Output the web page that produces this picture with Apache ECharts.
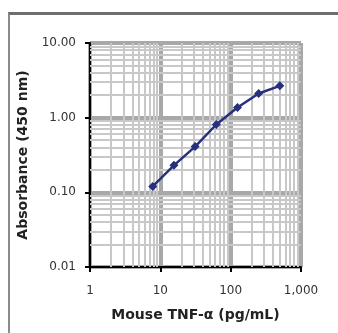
<!DOCTYPE html>
<html>
<head>
<meta charset="utf-8">
<script src="https://cdn.jsdelivr.net/npm/echarts@6/dist/echarts.min.js"></script>
<style>
  html, body { margin: 0; padding: 0; background: #fff; }
  #frame {
    position: absolute; left: 8px; top: 12px; width: 400px; height: 400px;
    border-top: 3px solid #6e6e6e; border-left: 2px solid #8a8a8a;
  }
  #chart { position: absolute; left: 0; top: 0; width: 338px; height: 333px; }
</style>
</head>
<body>
<div id="frame"></div>
<div id="chart"></div>
<script>
  // standard curve, mouse TNF-a
  let concentration = [7.8, 15.6, 31.25, 62.5, 125, 250, 500];
  let absorbance = [0.12, 0.23, 0.41, 0.81, 1.37, 2.11, 2.67];
  let xTickLabels = {0: '1', 1: '10', 2: '100', 3: '1,000'};
  let yTickLabels = {'-2': '0.01', '-1': '0.10', 0: '1.00', 1: '10.00'};
  // minor gridlines (2..9 within each decade)
  let xMinor = [2, 3, 4, 5, 6, 7, 8, 9, 20, 30, 40, 50, 60, 70, 80, 90, 200, 300, 400, 500, 600, 700, 800, 900];
  let yMinor = [0.02, 0.03, 0.04, 0.05, 0.06, 0.07, 0.08, 0.09, 0.2, 0.3, 0.4, 0.5, 0.6, 0.7, 0.8, 0.9, 2, 3, 4, 5, 6, 7, 8, 9];

  let chart = echarts.init(document.getElementById('chart'));
  let minorLines = [];
  for (let v of xMinor) minorLines.push({xAxis: v});
  for (let v of yMinor) minorLines.push({yAxis: v});

  let option = {
    animation: false,
    grid: {left: 90, right: 37, top: 43, bottom: 66},
    xAxis: {
      type: 'log', logBase: 10, min: 1, max: 1000,
      name: 'Mouse TNF-α (pg/mL)',
      nameLocation: 'middle',
      nameGap: 41,
      nameTextStyle: {fontFamily: 'DejaVu Sans', fontWeight: 'bold', fontSize: 14, color: '#222', verticalAlign: 'top'},
      axisLine: {lineStyle: {color: '#000', width: 2}},
      axisTick: {length: 5, lineStyle: {color: '#000', width: 2}},
      axisLabel: {
        margin: 18, fontFamily: 'DejaVu Sans', fontSize: 12, color: '#333',
        formatter: function (v) { return xTickLabels[Math.round(Math.log10(v))]; }
      },
      splitLine: {show: true, lineStyle: {color: '#a8a8a8', width: 4}}
    },
    yAxis: {
      type: 'log', logBase: 10, min: 0.01, max: 10,
      name: 'Absorbance (450 nm)',
      nameLocation: 'middle',
      nameGap: 60,
      nameTextStyle: {fontFamily: 'DejaVu Sans', fontWeight: 'bold', fontSize: 14, color: '#222'},
      axisLine: {show: true, lineStyle: {color: '#000', width: 2}},
      axisTick: {show: true, length: 5, lineStyle: {color: '#000', width: 2}},
      axisLabel: {
        margin: 14, fontFamily: 'DejaVu Sans', fontSize: 12, color: '#333',
        formatter: function (v) { return yTickLabels[Math.round(Math.log10(v))]; }
      },
      splitLine: {show: true, lineStyle: {color: '#a8a8a8', width: 4}}
    },
    series: [
      {
        type: 'line',
        silent: true,
        data: [],
        markLine: {
          silent: true,
          symbol: 'none',
          label: {show: false},
          lineStyle: {color: '#c8c8c8', width: 2, type: 'solid'},
          data: minorLines
        }
      },
      {
        type: 'line',
        data: concentration.map(function (c, i) { return [c, absorbance[i]]; }),
        symbol: 'diamond',
        symbolSize: 9,
        lineStyle: {color: '#27307e', width: 2.5},
        itemStyle: {color: '#27307e'},
        z: 5
      }
    ]
  };
  chart.setOption(option);
</script>
</body>
</html>
